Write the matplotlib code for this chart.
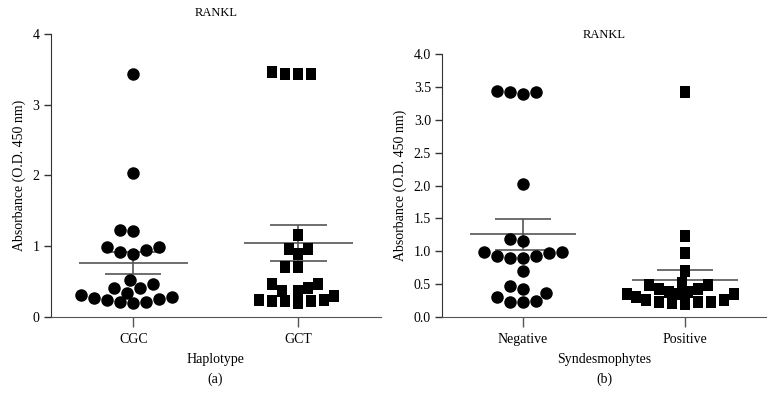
import numpy as np
import matplotlib
matplotlib.use('Agg')
import matplotlib.pyplot as plt

plt.rcParams['font.family'] = ['Liberation Serif', 'DejaVu Serif']
plt.rcParams['font.size'] = 10

# data
haplo_labels = ['CGC', 'GCT']
cgc = [3.43, 2.03, 1.22, 1.21, 0.98, 0.94, 0.89, 0.92, 0.98,
       0.52, 0.46, 0.40, 0.40, 0.34, 0.31, 0.28, 0.25, 0.27, 0.21, 0.20, 0.21, 0.24]
gct = [3.44, 3.43, 3.44, 3.46, 1.16, 0.96, 0.96, 0.89, 0.70, 0.70,
       0.46, 0.46, 0.36, 0.36, 0.41, 0.29, 0.24, 0.22, 0.19, 0.22, 0.22, 0.24]

synd_labels = ['Negative', 'Positive']
negative = [3.43, 3.42, 3.40, 3.44, 2.02, 1.19, 1.15,
            0.98, 0.97, 0.93, 0.89, 0.90, 0.93, 0.98,
            0.69, 0.47, 0.36, 0.42, 0.30, 0.24, 0.23, 0.23]
positive = [3.43, 1.23, 0.97, 0.70, 0.52, 0.49, 0.49, 0.42, 0.42,
            0.38, 0.38, 0.34, 0.34, 0.34, 0.30,
            0.25, 0.23, 0.23, 0.20, 0.21, 0.23, 0.25]

rect = [(-0.4, -0.5), (0.4, -0.5), (0.4, 0.5), (-0.4, 0.5), (-0.4, -0.5)]


def swarm(ax, xc, vals, d, step=3.25):
    # simple beeswarm in pixel space
    tr = ax.transData
    x0 = tr.transform((xc, 0))[0]
    order = np.argsort(vals)
    placed = []
    xs = np.zeros(len(vals))
    cands = [0]
    for j in range(1, 60):
        cands += [-j, j]
    for i in order:
        py = tr.transform((xc, vals[i]))[1]
        for k in cands:
            px = x0 + k * step
            if all((px - qx) ** 2 + (py - qy) ** 2 >= d ** 2 for qx, qy in placed):
                break
        placed.append((px, py))
        xs[i] = tr.inverted().transform((px, py))[0]
    return xs


def panel(ax, groups, labels, ymax, yticks, ytl, xlabel, tpad):
    ax.set_xlim(-0.5, 1.5)
    ax.set_ylim(0, ymax)
    styles = [('o', 9.0, 11.0), (rect, 9.3, 10.0)]
    for i, (vals, (m, ms, d)) in enumerate(zip(groups, styles)):
        vals = np.array(vals)
        xs = swarm(ax, i, vals, d)
        ax.plot(xs, vals, linestyle='none', marker=m, markersize=ms,
                markeredgewidth=0, color='black', zorder=3)
        mean = vals.mean()
        sem = vals.std(ddof=1) / np.sqrt(len(vals))
        ax.hlines(mean, i - 0.33, i + 0.33, color='#555555', lw=1.2, zorder=2)
        ax.hlines([mean - sem, mean + sem], i - 0.17, i + 0.17, color='#555555', lw=1.2, zorder=2)
        ax.vlines(i, mean - sem, mean + sem, color='#555555', lw=1.2, zorder=2)
    ax.set_xticks([0, 1])
    ax.set_xticklabels(labels)
    ax.set_yticks(yticks)
    ax.set_yticklabels(ytl)
    ax.spines['top'].set_visible(False)
    ax.spines['right'].set_visible(False)
    ax.spines['left'].set_color('#333333')
    ax.spines['bottom'].set_color('#555555')
    ax.tick_params(axis='y', length=5, width=1, color='#333333', pad=3)
    ax.tick_params(axis='x', length=7, width=1, color='#555555', pad=5)
    ax.set_ylabel('Absorbance (O.D. 450 nm)', labelpad=5)
    ax.set_xlabel(xlabel, labelpad=5)
    ax.set_title('RANKL', fontsize=9, pad=tpad)


fig = plt.figure(figsize=(7.74, 4.09), dpi=100)
W, H = 774, 409
ax1 = fig.add_axes([50.7 / W, 92.3 / H, (381 - 50.7) / W, (316.7 - 34) / H])
ax2 = fig.add_axes([442 / W, 92.3 / H, (766 - 442) / W, (316.7 - 54.3) / H])

panel(ax1, [cgc, gct], haplo_labels, 4,
      [0, 1, 2, 3, 4], ['0', '1', '2', '3', '4'], 'Haplotype', 13)
panel(ax2, [negative, positive], synd_labels, 4,
      np.arange(0, 4.01, 0.5), ['%.1f' % v for v in np.arange(0, 4.01, 0.5)],
      'Syndesmophytes', 12)

fig.text(215 / W, 1 - 379 / H, '(a)', ha='center', va='center', fontsize=10)
fig.text(604 / W, 1 - 379 / H, '(b)', ha='center', va='center', fontsize=10)

fig.savefig('out.png', dpi=100)
